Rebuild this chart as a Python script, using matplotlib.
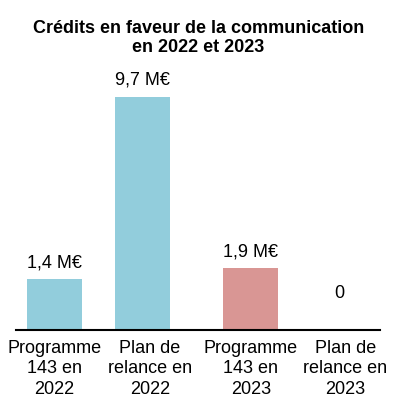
import numpy as np
import matplotlib.pyplot as plt

plt.rcParams['font.family'] = ['Liberation Sans', 'DejaVu Sans']

# Données
categories = ["Programme\n143 en\n2022", "Plan de\nrelance en\n2022",
              "Programme\n143 en\n2023", "Plan de\nrelance en\n2023"]
valeurs = [1.4, 9.7, 1.9, 0.0]
etiquettes = ["1,4 M€", "9,7 M€", "1,9 M€", "0"]

# Mise en page
positions = np.array([0, 1, 2.22, 3.22])
couleurs = ["#92CDDC", "#92CDDC", "#D99694", "none"]
base = -0.93  # les barres partent du bas de l'axe

fig = plt.figure(figsize=(3.97, 4.11), dpi=100)
ax = fig.add_axes([0.04, 0.197, 0.917, 0.657])

hauteurs = np.array(valeurs) - base
ax.bar(positions, hauteurs, bottom=base, width=0.62, color=couleurs)

for x, v, t in zip(positions, valeurs, etiquettes):
    ax.text(x, v + 0.36, t, ha="center", va="bottom", fontsize=13)

ax.set_xlim(-0.435, 3.68)
ax.set_ylim(base, base + 270 / 21.93)
ax.set_xticks(positions + np.array([0, 0.08, 0, 0.07]))
ax.set_xticklabels(categories, fontsize=13, linespacing=1.28)
ax.tick_params(axis="x", length=0, pad=7)
ax.set_yticks([])
for s in ["top", "right", "left"]:
    ax.spines[s].set_visible(False)
ax.spines["bottom"].set_linewidth(1.5)

fig.suptitle("Crédits en faveur de la communication\nen 2022 et 2023",
             fontsize=13, fontweight="bold", y=0.952, linespacing=1.2)

fig.savefig("out.png", dpi=100)
